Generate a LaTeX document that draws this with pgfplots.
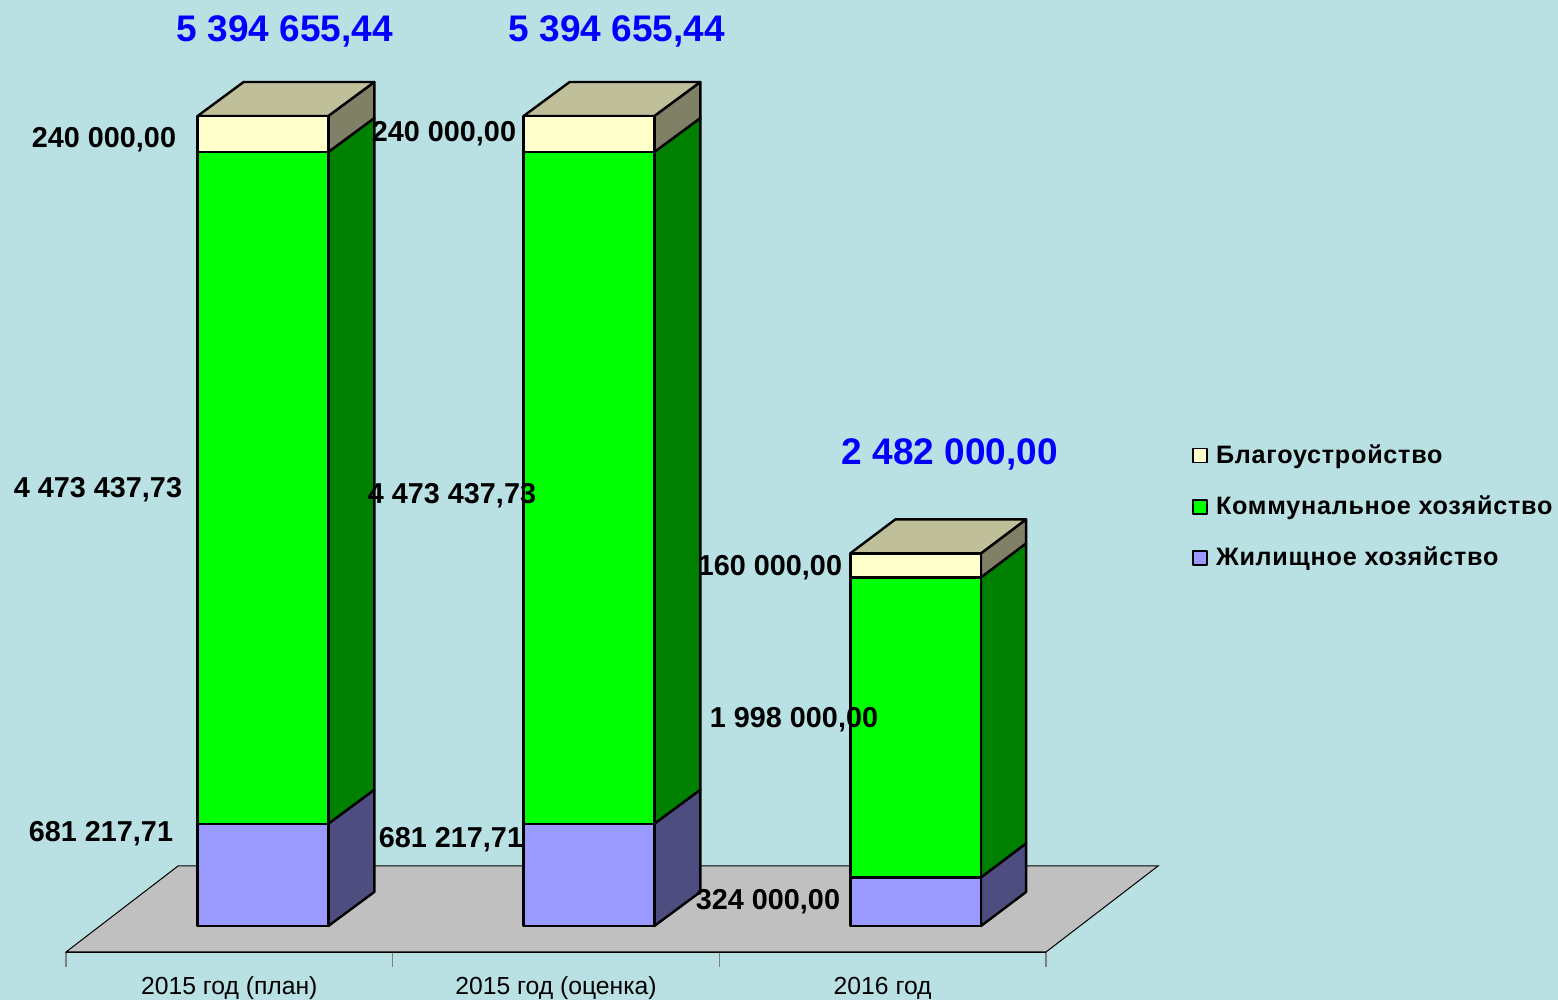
\documentclass[border=0pt]{standalone}
\usepackage{fontspec}
\setmainfont{Liberation Sans}
\newfontfamily\legfont[LetterSpace=3]{Liberation Sans}
\usepackage{pgfplots}
\pgfplotsset{compat=1.18}
\definecolor{bg}{HTML}{B9E0E3}
\definecolor{floorc}{HTML}{C0C0C0}
\definecolor{jil}{HTML}{9999FF}
\definecolor{jils}{HTML}{4D4D80}
\definecolor{kom}{HTML}{00FF00}
\definecolor{koms}{HTML}{008000}
\definecolor{bla}{HTML}{FFFFCC}
\definecolor{blas}{HTML}{808066}
\definecolor{blat}{HTML}{BFBF99}
\pgfplotsset{
  base/.style={
    at={(33pt,24pt)}, anchor=south west,
    scale only axis, width=490pt, height=476pt,
    xmin=0, xmax=3, ymin=-173162, ymax=6167225,
    clip=false,
  },
  face/.style={fill=#1, draw=black, line width=1.2pt, line join=round},
}
% labels placed in pixels of the reference
\newcommand{\lab}[4][black]{\node[text=#1, font=\bfseries\fontsize{#2}{#2}\selectfont] at ({#3*0.5pt},{(1000-#4)*0.5pt})}
\begin{document}
\begin{tikzpicture}
\useasboundingbox (0,0) rectangle (779pt,500pt);
\fill[bg] (0,0) rectangle (779pt,500pt);

% floor, side and top faces
\begin{axis}[base,
  axis x line=bottom, axis y line=none, x axis line style={-, black, line width=0.7pt},
  xtick={0,1,2,3}, x tick label as interval,
  xticklabels={2015 год (план),2015 год (оценка),2016 год},
  tick align=outside, major tick length=7.5pt,
  tick style={gray, line width=0.6pt},
  xticklabel style={font=\fontsize{12.35}{14}\selectfont, yshift=-1.5pt},
]
\addplot[fill=floorc, draw=black, line width=0.5pt] coordinates {(0,-173162) (3,-173162) (3.343,399600) (0.343,399600)} --cycle;

\addplot[face=jils] coordinates {(0.803,0) (0.9438,226440) (0.9438,907658) (0.803,681218)} --cycle;
\addplot[face=koms] coordinates {(0.803,681218) (0.9438,907658) (0.9438,5381095) (0.803,5154655)} --cycle;
\addplot[face=blas] coordinates {(0.803,5154655) (0.9438,5381095) (0.9438,5621095) (0.803,5394655)} --cycle;
\addplot[face=blat] coordinates {(0.403,5394655) (0.803,5394655) (0.9438,5621095) (0.5438,5621095)} --cycle;

\addplot[face=jils] coordinates {(1.801,0) (1.9418,226440) (1.9418,907658) (1.801,681218)} --cycle;
\addplot[face=koms] coordinates {(1.801,681218) (1.9418,907658) (1.9418,5381095) (1.801,5154655)} --cycle;
\addplot[face=blas] coordinates {(1.801,5154655) (1.9418,5381095) (1.9418,5621095) (1.801,5394655)} --cycle;
\addplot[face=blat] coordinates {(1.401,5394655) (1.801,5394655) (1.9418,5621095) (1.5418,5621095)} --cycle;

\addplot[face=jils] coordinates {(2.801,0) (2.9390,226440) (2.9390,550440) (2.801,324000)} --cycle;
\addplot[face=koms] coordinates {(2.801,324000) (2.9390,550440) (2.9390,2548440) (2.801,2322000)} --cycle;
\addplot[face=blas] coordinates {(2.801,2322000) (2.9390,2548440) (2.9390,2708440) (2.801,2482000)} --cycle;
\addplot[face=blat] coordinates {(2.401,2482000) (2.801,2482000) (2.9390,2708440) (2.5390,2708440)} --cycle;
\end{axis}

% front faces
\begin{axis}[base, hide axis,
  ybar stacked, bar width=0.4,
  reverse legend,
  legend cell align=left,
  legend image code/.code={\draw[#1, line width=0.8pt, draw=black] (0pt,-3.5pt) rectangle (7pt,3.5pt);},
  legend style={
    at={(1.149,0.5375)}, anchor=north west, draw=none, fill=none,
    font=\legfont\bfseries\fontsize{12.58}{14}\selectfont,
    row sep=10.75pt, inner sep=0pt,
    /tikz/every odd column/.append style={column sep=2pt},
  },
]
\addplot[face=jil] coordinates {(0.603,681217.71) (1.601,681217.71) (2.601,324000)};
\addplot[face=kom] coordinates {(0.603,4473437.73) (1.601,4473437.73) (2.601,1998000)};
\addplot[face=bla] coordinates {(0.603,240000) (1.601,240000) (2.601,160000)};
\legend{Жилищное хозяйство,Коммунальное хозяйство,Благоустройство}
\end{axis}

\lab[blue]{18.5}{285}{31}{5 394 655,44};
\lab[blue]{18.5}{617}{31}{5 394 655,44};
\lab[blue]{18.5}{950}{454}{2 482 000,00};
\lab{14.4}{104}{140}{240 000,00};
\lab{14.4}{444}{134}{240 000,00};
\lab{14.4}{98}{490}{4 473 437,73};
\lab{14.4}{452}{496}{4 473 437,73};
\lab{14.4}{101}{834}{681 217,71};
\lab{14.4}{451}{840}{681 217,71};
\lab{14.4}{770}{568}{160 000,00};
\lab{14.4}{794}{720}{1 998 000,00};
\lab{14.4}{768}{902}{324 000,00};
\end{tikzpicture}
\end{document}
